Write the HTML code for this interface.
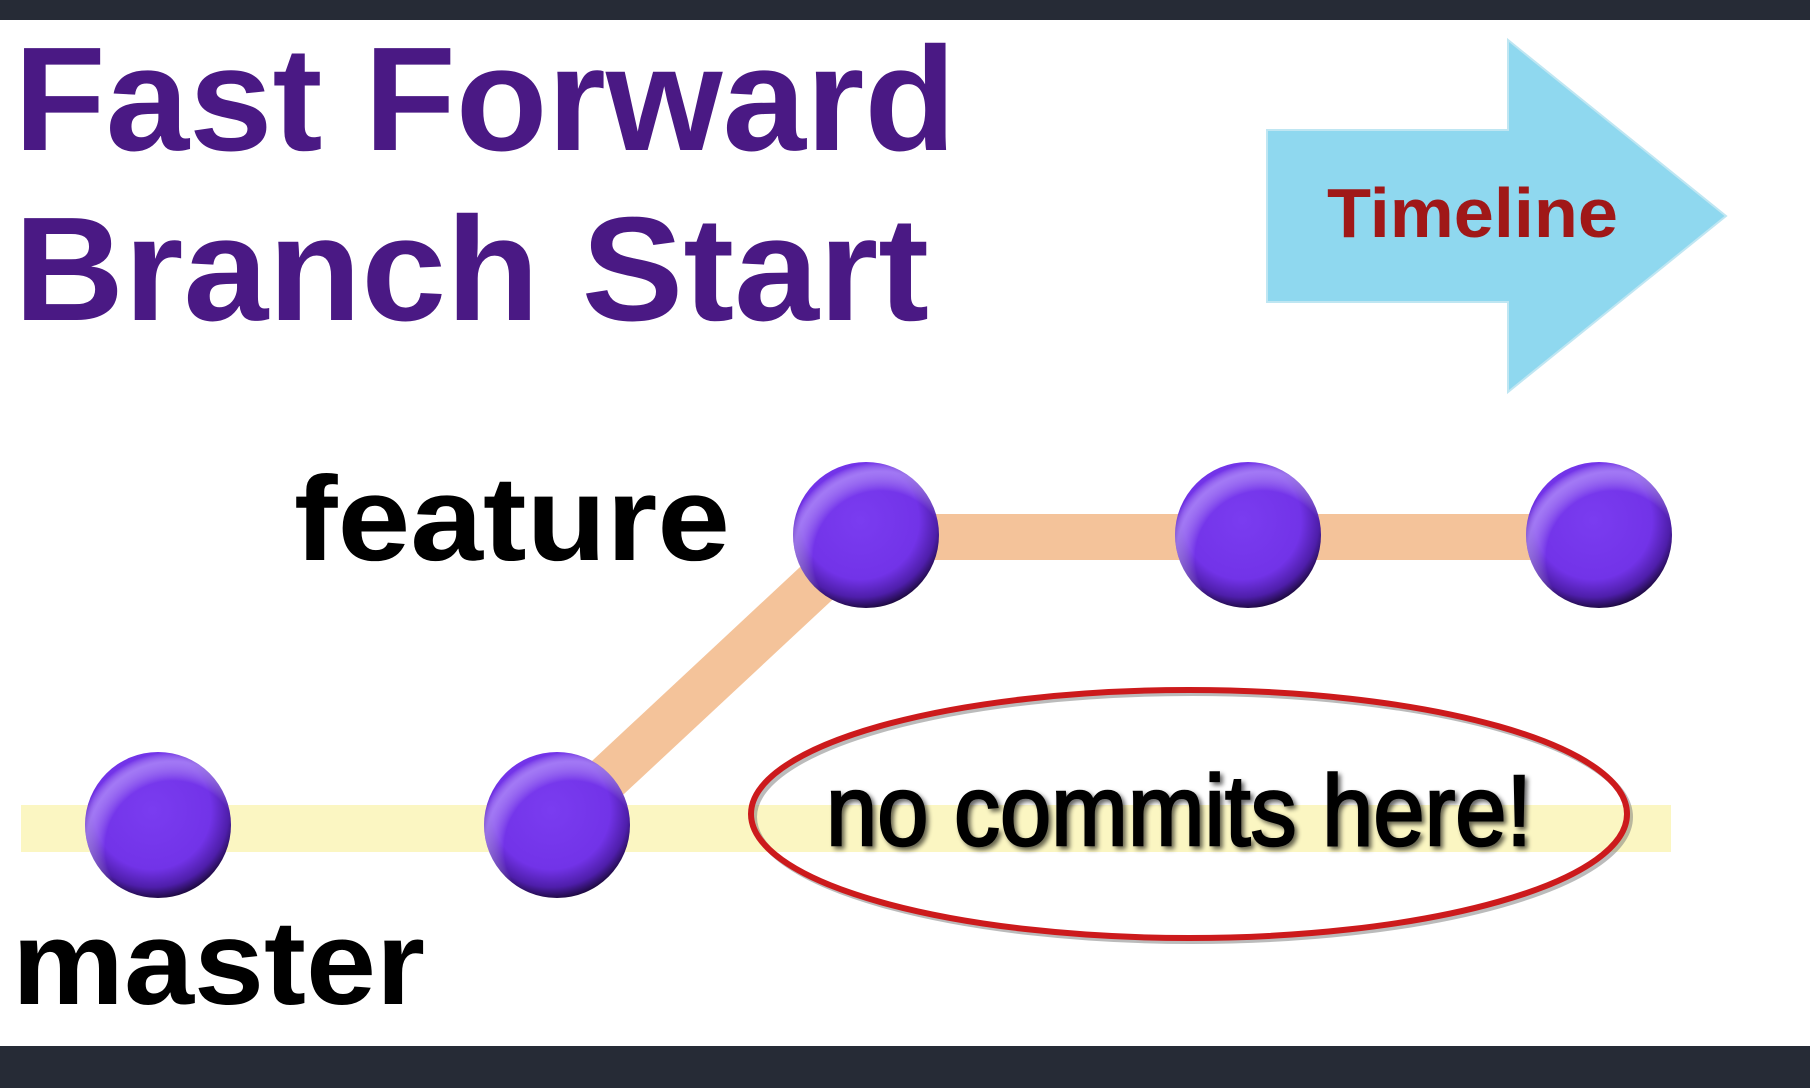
<!DOCTYPE html>
<html><head><meta charset="utf-8"><style>
html,body{margin:0;padding:0;background:#fff;}
svg{display:block;}
</style></head><body>
<svg width="1810" height="1088" viewBox="0 0 1810 1088" xmlns="http://www.w3.org/2000/svg">
<defs>
<radialGradient id="g" cx="46%" cy="40%" r="62%">
<stop offset="0" stop-color="#7a3cf0"/>
<stop offset="0.65" stop-color="#7233e8"/>
<stop offset="0.85" stop-color="#4e1eaa"/>
<stop offset="1" stop-color="#160630"/>
</radialGradient>
<radialGradient id="hl" cx="60%" cy="66%" r="66%">
<stop offset="0" stop-color="#ffffff" stop-opacity="0"/>
<stop offset="0.7" stop-color="#ffffff" stop-opacity="0"/>
<stop offset="0.9" stop-color="#c8b0ff" stop-opacity="0.55"/>
<stop offset="1" stop-color="#ffffff" stop-opacity="0"/>
</radialGradient>
<filter id="ts" x="-5%" y="-20%" width="110%" height="140%"><feGaussianBlur in="SourceAlpha" stdDeviation="2.5"/><feOffset dx="3" dy="3"/><feComponentTransfer><feFuncA type="linear" slope="0.6"/></feComponentTransfer><feMerge><feMergeNode/><feMergeNode in="SourceGraphic"/></feMerge></filter>
</defs>
<rect width="1810" height="1088" fill="#fff"/>
<rect width="1810" height="20" fill="#262b36"/>
<rect y="1046" width="1810" height="42" fill="#262b36"/>

<g font-family="Liberation Sans, sans-serif" font-weight="bold" fill="#4a1984">
<text x="14" y="150" font-size="148" textLength="942" lengthAdjust="spacingAndGlyphs">Fast Forward</text>
<text x="14" y="320" font-size="148" textLength="915" lengthAdjust="spacingAndGlyphs">Branch Start</text>
</g>

<polygon points="1267,130 1508,130 1508,40 1726,216 1508,392 1508,302 1267,302" fill="#8fd8ef" stroke="#bfe6f2" stroke-width="2"/>
<text x="1327" y="237" font-family="Liberation Sans, sans-serif" font-weight="bold" font-size="70" fill="#a01818" textLength="291" lengthAdjust="spacingAndGlyphs">Timeline</text>

<rect x="21" y="805" width="1650" height="47" fill="#fbf6c2"/>
<line x1="557" y1="825" x2="866" y2="537" stroke="#f4c39a" stroke-width="46"/>
<rect x="866" y="514" width="733" height="46" fill="#f4c39a"/>

<g font-family="Liberation Sans, sans-serif" font-weight="bold" fill="#000">
<text x="294" y="560" font-size="120" textLength="436" lengthAdjust="spacingAndGlyphs">feature</text>
<text x="12" y="1004" font-size="120" textLength="413" lengthAdjust="spacingAndGlyphs">master</text>
</g>

<g>
<circle cx="158" cy="825" r="73" fill="url(#g)"/><circle cx="158" cy="825" r="73" fill="url(#hl)"/>
<circle cx="557" cy="825" r="73" fill="url(#g)"/><circle cx="557" cy="825" r="73" fill="url(#hl)"/>
<circle cx="866" cy="535" r="73" fill="url(#g)"/><circle cx="866" cy="535" r="73" fill="url(#hl)"/>
<circle cx="1248" cy="535" r="73" fill="url(#g)"/><circle cx="1248" cy="535" r="73" fill="url(#hl)"/>
<circle cx="1599" cy="535" r="73" fill="url(#g)"/><circle cx="1599" cy="535" r="73" fill="url(#hl)"/>
</g>

<ellipse cx="1192" cy="817" rx="438" ry="124" fill="none" stroke="#777" stroke-opacity="0.5" stroke-width="6"/>
<ellipse cx="1189" cy="814" rx="438" ry="124" fill="none" stroke="#cc1a1c" stroke-width="6"/>
<text x="826" y="845" font-family="Liberation Sans, sans-serif" font-size="100" fill="#000" stroke="#000" stroke-width="2.5" filter="url(#ts)" textLength="706" lengthAdjust="spacingAndGlyphs">no commits here!</text>
</svg>
</body></html>
